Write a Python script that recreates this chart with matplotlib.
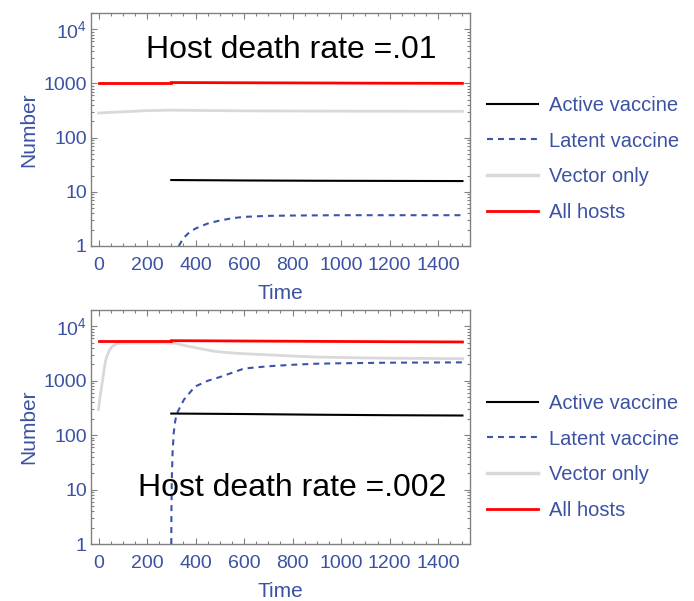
import matplotlib
matplotlib.use("Agg")
import matplotlib.pyplot as plt
from matplotlib.ticker import FixedLocator, FixedFormatter, LogLocator, NullFormatter, MultipleLocator
from matplotlib.lines import Line2D

plt.rcParams['font.family'] = ['Liberation Sans', 'DejaVu Sans']
plt.rcParams['mathtext.fontset'] = 'custom'
plt.rcParams['mathtext.rm'] = 'Liberation Sans'
plt.rcParams['mathtext.it'] = 'Liberation Sans'
plt.rcParams['lines.scale_dashes'] = False

# ---------------- data ----------------
labels = ["Active vaccine", "Latent vaccine", "Vector only", "All hosts"]
titles = ["Host death rate =.01", "Host death rate =.002"]
xticks = [0, 200, 400, 600, 800, 1000, 1200, 1400]
yticks = [1, 10, 100, 1000, 10000]
ytick_labels = ["1", "10", "100", "1000", "$10^4$"]

# top panel (death rate .01)
top_red_t1 = [0, 300]
top_red_v1 = [1000, 1000]
top_red_t2 = [300, 600, 900, 1200, 1500]
top_red_v2 = [1040, 1030, 1020, 1010, 1005]
top_grey_t = [0, 100, 200, 300, 400, 600, 800, 1000, 1500]
top_grey_v = [285, 300, 315, 322, 318, 312, 310, 308, 306]
top_black_t = [300, 600, 900, 1200, 1500]
top_black_v = [16.5, 16.2, 16.0, 15.9, 15.8]
top_blue_t = [331, 350, 375, 400, 450, 500, 550, 600, 700, 800, 1000, 1500]
top_blue_v = [1.0, 1.4, 1.8, 2.1, 2.6, 2.95, 3.25, 3.45, 3.6, 3.65, 3.7, 3.7]

# bottom panel (death rate .002)
bot_red_t1 = [0, 300]
bot_red_v1 = [5300, 5300]
bot_red_t2 = [300, 600, 900, 1200, 1500]
bot_red_v2 = [5460, 5380, 5300, 5230, 5170]
bot_grey_t = [0, 5, 10, 16.5, 22, 30, 37, 44, 55, 70, 88, 150, 300,
              320, 350, 400, 440, 480, 530, 580, 686, 800, 893, 1028, 1200, 1500]
bot_grey_v = [296, 450, 650, 1000, 1500, 2430, 3000, 3600, 4200, 4700, 4900, 4950, 4950,
              4850, 4500, 4050, 3750, 3470, 3300, 3180, 3020, 2850, 2740, 2660, 2600, 2550]
bot_black_t = [300, 600, 900, 1200, 1500]
bot_black_v = [250, 245, 238, 233, 230]
bot_blue_t = [300, 300.5, 302, 305, 310, 316, 322, 331, 352, 397, 450, 500,
              600, 700, 800, 900, 1000, 1200, 1500]
bot_blue_v = [1, 4, 15, 45, 110, 180, 245, 295, 450, 780, 1000, 1170,
              1680, 1850, 1970, 2060, 2100, 2150, 2180]

# ---------------- styling ----------------
BLUE_TXT = '#3b52a3'
DASH_BLUE = '#3a55a8'
GREY = '#d9d9d9'
SPINE = '#808080'

fig = plt.figure(figsize=(6.94, 6.01), dpi=100)
ax1 = fig.add_axes([0.1311, 0.5907, 0.5461, 0.3877])
ax2 = fig.add_axes([0.1311, 0.0948, 0.5461, 0.3894])

panels = [
    (ax1, (top_red_t1, top_red_v1, top_red_t2, top_red_v2), (top_grey_t, top_grey_v),
     (top_black_t, top_black_v), (top_blue_t, top_blue_v)),
    (ax2, (bot_red_t1, bot_red_v1, bot_red_t2, bot_red_v2), (bot_grey_t, bot_grey_v),
     (bot_black_t, bot_black_v), (bot_blue_t, bot_blue_v)),
]

for ax, red, grey, black, blue in panels:
    ax.plot(grey[0], grey[1], color=GREY, lw=2.0, zorder=2)
    ax.plot(blue[0], blue[1], color=DASH_BLUE, lw=1.5, dashes=(4.3, 3.6), zorder=3)
    ax.plot(black[0], black[1], color='black', lw=1.5, zorder=4)
    ax.plot(red[0], red[1], color='red', lw=2.0, zorder=5)
    ax.plot(red[2], red[3], color='red', lw=2.0, zorder=5)
    ax.set_yscale('log')
    ax.set_xlim(-31, 1531)
    ax.set_ylim(1, 2.0e4)
    ax.xaxis.set_major_locator(FixedLocator(xticks))
    ax.xaxis.set_minor_locator(MultipleLocator(50))
    ax.yaxis.set_major_locator(FixedLocator(yticks))
    ax.yaxis.set_major_formatter(FixedFormatter(ytick_labels))
    ax.yaxis.set_minor_locator(LogLocator(base=10, subs=range(2, 10)))
    ax.yaxis.set_minor_formatter(NullFormatter())
    for s in ax.spines.values():
        s.set_color(SPINE)
        s.set_linewidth(1.0)
    ax.tick_params(which='both', direction='in', top=True, right=True, color=SPINE, width=0.8)
    ax.tick_params(which='major', length=4)
    ax.tick_params(which='minor', length=2.5)
    ax.tick_params(axis='x', which='major', labelsize=14, labelcolor=BLUE_TXT, pad=8)
    ax.tick_params(axis='y', which='major', labelsize=14, labelcolor=BLUE_TXT, pad=3)
    ax.set_xlabel('Time', fontsize=15, color=BLUE_TXT, labelpad=7)
    ax.set_ylabel('Number', fontsize=15, color=BLUE_TXT, labelpad=4)

ax1.text(0.528, 0.843, titles[0], transform=ax1.transAxes, fontsize=23, color='black',
         ha='center', va='center')
ax2.text(0.532, 0.241, titles[1], transform=ax2.transAxes, fontsize=23, color='black',
         ha='center', va='center')

handles = [
    Line2D([], [], color='black', lw=1.5),
    Line2D([], [], color=DASH_BLUE, lw=1.5, dashes=(4.3, 3.6)),
    Line2D([], [], color=GREY, lw=2.5),
    Line2D([], [], color='red', lw=2.0),
]
for yc in (1 - 159 / 601, 1 - 457 / 601):
    leg = fig.legend(handles, labels, loc='center left', bbox_to_anchor=(487 / 694, yc),
                     frameon=False, fontsize=14.5, handlelength=2.55, handletextpad=0.55,
                     labelspacing=0.84, borderpad=0, borderaxespad=0)
    for t in leg.get_texts():
        t.set_color(BLUE_TXT)

fig.savefig('out.png', dpi=100)
